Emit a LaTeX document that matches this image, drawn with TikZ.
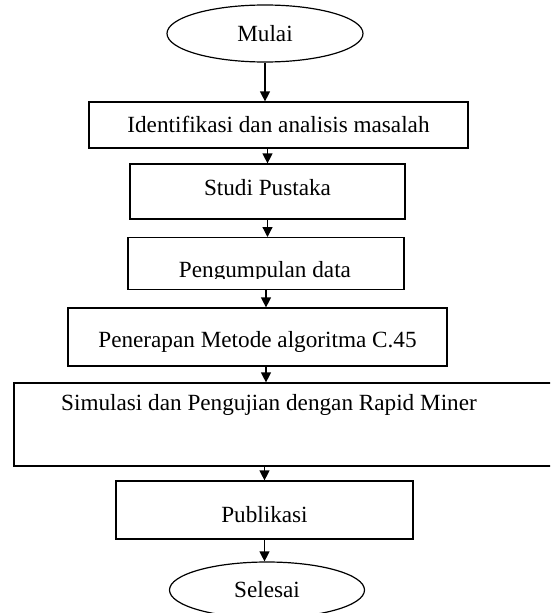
\documentclass[tikz,border=0pt]{standalone}
\usepackage{fontspec}
\setmainfont{Liberation Serif}
\usetikzlibrary{arrows.meta,shapes.geometric}
\begin{document}
\begin{tikzpicture}[x=1pt,y=-1pt,
  every node/.style={font=\fontsize{23.2}{28}\selectfont},
  procbox/.style={draw,line width=1.2pt,rectangle,inner xsep=0pt,inner ysep=0pt,anchor=base},
  emptybox/.style={draw,line width=1.2pt,rectangle,inner sep=0pt,anchor=north},
  term/.style={draw,line width=1.2pt,ellipse,inner sep=0pt},
  flow/.style={line width=1.2pt,-{Triangle[length=10pt,width=10pt]}}]
\useasboundingbox (0,0) rectangle (550,613);
\clip (0,0) rectangle (550,613);
\node[term,minimum width=196pt,minimum height=57pt] (start) at (265,33.5) {Mulai};
\node[procbox,minimum width=379pt,text height=30pt,text depth=16pt] (s1) at (278.5,132) {Identifikasi dan analisis masalah};
\node[procbox,minimum width=275pt,text height=31pt,text depth=24pt] (s2) at (267.5,195) {Studi Pustaka};
\node[emptybox,minimum width=276pt,minimum height=52pt] (s3) at (266,237) {};
\begin{scope}
  \clip (0,0) rectangle (550,278.5);
  \node[anchor=base,inner sep=0pt] (s3t) at (265,277) {Pengumpulan data};
\end{scope}
\node[procbox,minimum width=379pt,text height=39pt,text depth=19pt] (s4) at (257.5,347) {Penerapan Metode algoritma C.45};
\node[procbox,minimum width=560pt,text height=27pt,text depth=56pt] (s5) at (294,410) {Simulasi dan Pengujian dengan Rapid Miner\hspace*{50pt}};
\node[procbox,minimum width=297pt,text height=41pt,text depth=17pt] (s6) at (264.5,522) {Publikasi};
\node[term,minimum width=195pt,minimum height=56pt] (stop) at (267,590) {Selesai};
\draw[flow] (start.south) -- (start.south |- s1.north);
\draw[flow] (s2.north |- s1.south) -- (s2.north);
\draw[flow] (s2.south) -- (s2.south |- s3.north);
\draw[flow] (s3.south) -- (s3.south |- s4.north);
\draw[flow] (s3.south |- s4.south) -- (s3.south |- s5.north);
\draw[flow] (s6.north |- s5.south) -- (s6.north);
\draw[flow] (s6.south) -- (s6.south |- stop.north);
\end{tikzpicture}
\end{document}
